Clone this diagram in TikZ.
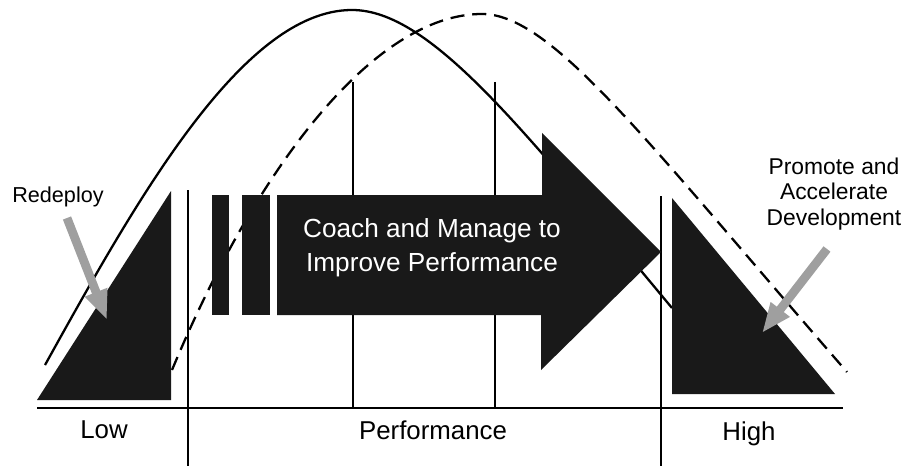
\documentclass[tikz,border=0pt]{standalone}
\usepackage{fontspec}
\setmainfont{Liberation Sans}
\usetikzlibrary{arrows.meta}
\tikzset{
  solidcurve/.style={line width=1.3pt},
  dashcurve/.style={line width=1.3pt, dash pattern=on 8pt off 4.5pt},
  divider/.style={line width=0.6pt},
  blackfill/.style={fill=black!90},
  pointer/.style={draw=gray!75, line width=5pt,
    -{Triangle[length=17pt, width=12.5pt]}},
  smalllabel/.style={font=\fontsize{12.3}{14.7}\selectfont, align=center},
  axislabel/.style={font=\fontsize{14.7}{17}\selectfont, anchor=base},
}

\begin{document}
\begin{tikzpicture}[x=0.02cm, y=-0.02cm]
  \useasboundingbox (0,0) rectangle (906,466);

  % Dividers and grid lines
  \foreach \x/\ya/\yb in {188/190/466, 661/196/466, 353/82/408, 495/82/408} {
    \draw[divider] (\x,\ya) -- (\x,\yb);
  }

  % Current and shifted distributions
  \draw[solidcurve] (45,365) .. controls (135,203) and (242,10) .. (352,10)
    .. controls (430,10) and (522,128) .. (672,308);
  \draw[dashcurve] (172,370) .. controls (257,166) and (375,14) .. (482,14)
    .. controls (552,14) and (647,142) .. (847,372);

  % Low and high blocks
  \fill[blackfill] (37,400) -- (171,191) -- (171,400) -- cycle;
  \fill[blackfill] (672,198) -- (835,394) -- (672,394) -- cycle;

  % Middle arrow
  \foreach \l/\r in {212/229, 242/270} {
    \fill[blackfill] (\l,195) rectangle (\r,315);
  }
  \fill[blackfill] (277,195) -- (542,195) -- (542,133) -- (661,252)
    -- (541,370) -- (541,315) -- (277,315) -- cycle;
  \node[font=\fontsize{14.9}{19.3}\selectfont, text=white, align=center]
    (coach) at (432,248) {Coach and Manage to\\Improve Performance};

  % Performance axis
  \draw[line width=1.5pt] (37,408) -- (843,408);
  \node[axislabel] (low) at (104,438) {Low};
  \node[axislabel] (perf) at (433,439) {Performance};
  \node[axislabel] (high) at (749,440) {High};

  % Side labels with pointers
  \node[smalllabel, anchor=base] (redeploy) at (58,202) {Redeploy};
  \node[smalllabel, font=\fontsize{13}{14.7}\selectfont] (promote)
    at (834,194) {Promote and\\Accelerate\\Development};
  \coordinate (rd-tail) at (67,218);
  \coordinate (rd-tip) at (107,320);
  \coordinate (pr-tail) at (827,249);
  \coordinate (pr-tip) at (762,333);
  \draw[pointer] (rd-tail) -- (rd-tip);
  \draw[pointer] (pr-tail) -- (pr-tip);
\end{tikzpicture}
\end{document}
